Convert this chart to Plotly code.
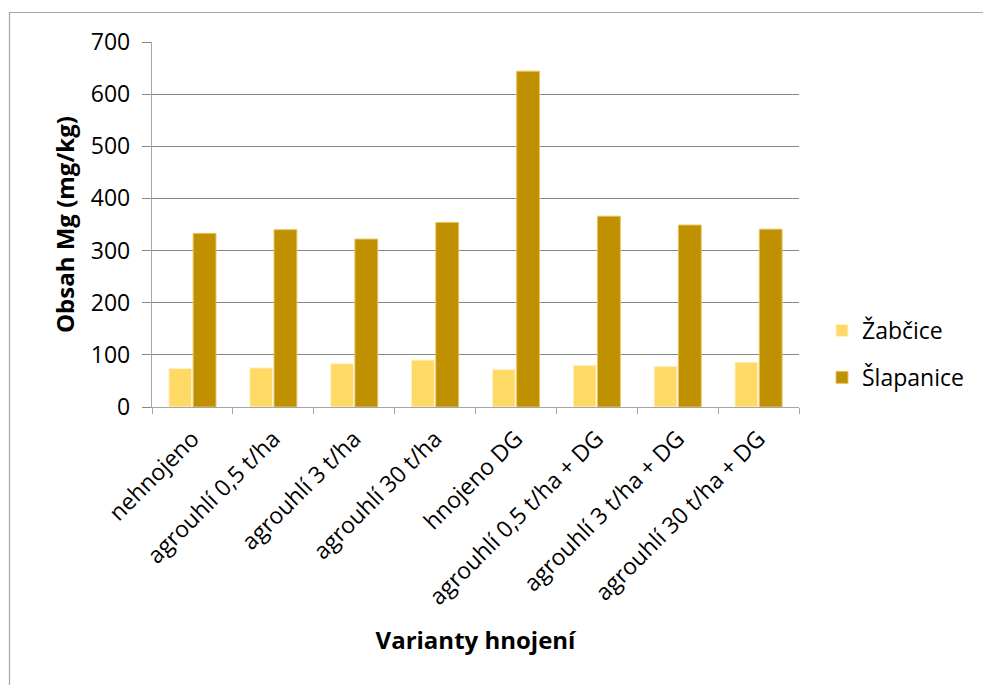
import plotly.graph_objects as go

# Fertilisation variants (x categories)
varianty = [
    "nehnojeno",
    "agrouhlí 0,5 t/ha",
    "agrouhlí 3 t/ha",
    "agrouhlí 30 t/ha",
    "hnojeno DG",
    "agrouhlí 0,5 t/ha + DG",
    "agrouhlí 3 t/ha + DG",
    "agrouhlí 30 t/ha + DG",
]

# Mg content (mg/kg) at the two sites
zabcice = [74, 75, 83, 90, 72, 80, 78, 86]
slapanice = [333, 340, 322, 354, 644, 366, 349, 341]

y_ticks = [0, 100, 200, 300, 400, 500, 600, 700]

FONT = "Open Sans"
W, H = 983, 685
L, R, T, B = 152, 184, 42, 278
pw, ph = W - L - R, H - T - B

fig = go.Figure()
fig.add_trace(go.Bar(
    name="Žabčice", x=varianty, y=zabcice,
    marker=dict(color="#FFD966", line=dict(color="#FFF2CC", width=1)),
    legendgroup="a",
))
fig.add_trace(go.Bar(
    name="Šlapanice", x=varianty, y=slapanice,
    marker=dict(color="#BF9000", line=dict(color="#E6C35C", width=1)),
    legendgroup="b",
))

# outer chart frame
fig.add_shape(
    type="rect", xref="paper", yref="paper",
    x0=(9.5 - L) / pw, x1=(1000 - L) / pw,
    y0=(H - B - 700) / ph, y1=(H - B - 12.5) / ph,
    line=dict(color="#A6A6A6", width=1.2), fillcolor="rgba(0,0,0,0)",
    layer="below",
)

# vertical axis title
fig.add_annotation(
    text="<b>Obsah Mg (mg/kg)</b>", textangle=-90,
    xref="paper", yref="paper",
    x=(64 - L) / pw, y=(H - B - 225) / ph,
    xanchor="center", yanchor="middle", showarrow=False,
    font=dict(family=FONT, size=24, color="black"),
)

fig.update_layout(
    width=W, height=H,
    margin=dict(l=L, r=R, t=T, b=B, autoexpand=False),
    paper_bgcolor="white", plot_bgcolor="white",
    font=dict(family=FONT, size=23, color="black"),
    barmode="group", bargap=0.40, bargroupgap=0.06,
    showlegend=True,
    legend=dict(
        x=(822 - L) / pw, y=(H - B - 354) / ph,
        xanchor="left", yanchor="middle",
        font=dict(family=FONT, size=23),
        traceorder="grouped", tracegroupgap=14,
        bgcolor="rgba(0,0,0,0)",
    ),
    xaxis=dict(
        automargin=False,
        tickangle=-45,
        tickfont=dict(family=FONT, size=23),
        showline=True, linecolor="#A6A6A6", linewidth=1.3,
        ticks="outside", tickson="boundaries", ticklen=6, tickcolor="#A6A6A6",
        showgrid=False,
        ticklabelstandoff=8,
        title=dict(text="<b>Varianty hnojení</b>", font=dict(family=FONT, size=24), standoff=22),
    ),
    yaxis=dict(
        automargin=False,
        range=[0, 700], tickvals=y_ticks,
        tickfont=dict(family=FONT, size=23),
        showline=True, linecolor="#A6A6A6", linewidth=1.3,
        ticks="outside", ticklen=9, tickcolor="#868686",
        gridcolor="#868686", gridwidth=1,
        zeroline=False,
        ticklabelstandoff=7,
    ),
)

fig.write_html("out.html")
